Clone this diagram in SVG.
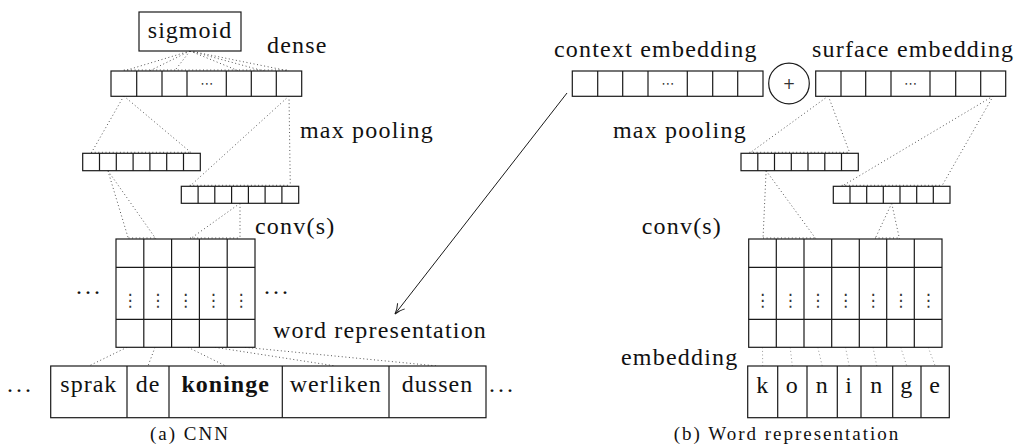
<svg xmlns="http://www.w3.org/2000/svg" width="1016" height="448" viewBox="0 0 1016 448">
  <style>
    .box { fill: #ffffff; stroke: #1a1a1a; stroke-width: 1.2; }
    .cell { fill: none; stroke: #1a1a1a; stroke-width: 1.2; }
    .dot { fill: none; stroke: #555555; stroke-width: 1; stroke-dasharray: 1 2.6; }
    .faint { fill: none; stroke: #9a9a9a; stroke-width: 1; stroke-dasharray: 1 2.6; }
    .arrow { fill: none; stroke: #1a1a1a; stroke-width: 1; }
    .serif { font-family: "Liberation Serif", "Times New Roman", serif; fill: #111111; }
    .lbl { font-size: 24px; letter-spacing: 1.2px; }
    .word { font-size: 24px; letter-spacing: 1px; text-anchor: middle; }
    .bold { font-weight: bold; }
    .cap { font-size: 19px; letter-spacing: 2px; text-anchor: middle; }
    .ell { font-size: 24px; letter-spacing: 3px; }
    .sym { font-family: "DejaVu Sans", sans-serif; fill: #333333; text-anchor: middle; }
  </style>
  <defs>
    <marker id="head" viewBox="0 0 12 12" refX="11" refY="6" markerWidth="12" markerHeight="12" markerUnits="userSpaceOnUse" orient="auto">
      <path d="M1,1.5 Q6,5 11,6 Q6,7 1,10.5" fill="none" stroke="#1a1a1a" stroke-width="1"/>
    </marker>
  </defs>

  <!-- connectors -->
  <g id="connectors">
    <!-- sigmoid to dense -->
    <path class="dot" d="M190,51 L123.8,71 M190,51 L149.3,71 M190,51 L174.5,71 M190,51 L238.8,71 M190,51 L263.8,71 M190,51 L289,71 M123.8,70 H289"/>
    <!-- dense to pooled vectors (left) -->
    <path class="dot" d="M123.8,96 L91.1,153.3 M123.8,96 L191.9,153.3 M91.1,152.3 H191.9"/>
    <path class="dot" d="M289,96 L189.7,186.3 M289,96 L290.3,186.3 M189.7,185.3 H290.3"/>
    <!-- pooled vectors to conv matrix (left) -->
    <path class="dot" d="M107.9,170.7 L128.5,239 M107.9,170.7 L156,239 M128.5,238 H156"/>
    <path class="dot" d="M240,203.3 L190,239 M240,203.3 L240,239 M190,238 H240"/>
    <!-- conv matrix to words -->
    <path class="dot" d="M127,347.3 L88.8,366 M155,347.3 L148,366 M188,347.3 L225.7,366 M215,347.3 L335.7,366 M245,347.3 L437.5,366"/>
    <!-- surface embedding to pooled vectors (right) -->
    <path class="dot" d="M828.3,96 L749.4,153.3 M828.3,96 L849.9,153.3 M749.4,152.3 H849.9"/>
    <path class="dot" d="M993.2,96 L841.7,186.3 M993.2,96 L941.7,186.3 M841.7,185.3 H941.7"/>
    <!-- pooled vectors to conv matrix (right) -->
    <path class="dot" d="M766.1,170.7 L763,239 M766.1,170.7 L816,239 M763,238 H816"/>
    <path class="dot" d="M891.7,203.3 L875,239 M891.7,203.3 L899.5,239 M875,238 H899.5"/>
    <!-- character embeddings to conv matrix -->
    <path class="faint" d="M762.5,347.3 L762.7,366 M790.2,347.3 L792.3,366 M817.8,347.3 L822.2,366 M845.5,347.3 L849.2,366 M873,347.3 L876.8,366 M900.7,347.3 L906.8,366 M928.2,347.3 L935.2,366"/>
    <!-- word representation feeds the sentence CNN -->
    <line class="arrow" x1="567" y1="93" x2="395" y2="314" marker-end="url(#head)"/>
  </g>

  <!-- (a) CNN -->
  <g id="sigmoid">
    <rect class="box" x="139" y="12" width="102" height="39"/>
    <text class="serif word" x="190" y="38">sigmoid</text>
  </g>
  <g id="dense">
    <rect class="box" x="111" y="71" width="190.7" height="25.3"/>
    <path class="cell" d="M136.7,71V96.3M162,71V96.3M187,71V96.3M226.3,71V96.3M251.3,71V96.3M276.3,71V96.3"/>
    <text class="sym" x="206.7" y="88" font-size="13">⋯</text>
    <text class="serif lbl" x="267" y="53">dense</text>
  </g>
  <g id="pool-left-a">
    <rect class="box" x="82.7" y="153.3" width="117.6" height="17.4"/>
    <path class="cell" d="M99.5,153.3V170.7M116.3,153.3V170.7M133.1,153.3V170.7M149.9,153.3V170.7M166.7,153.3V170.7M183.5,153.3V170.7"/>
  </g>
  <g id="pool-left-b">
    <rect class="box" x="181.3" y="186.3" width="117.4" height="17"/>
    <path class="cell" d="M198.1,186.3V203.3M214.8,186.3V203.3M231.6,186.3V203.3M248.4,186.3V203.3M265.1,186.3V203.3M281.9,186.3V203.3"/>
    <text class="serif lbl" x="300" y="138">max pooling</text>
  </g>
  <g id="conv-left">
    <rect class="box" x="116" y="239" width="139" height="108.3"/>
    <path class="cell" d="M143.8,239V347.3M171.6,239V347.3M199.4,239V347.3M227.2,239V347.3M116,267.3H255M116,319.3H255"/>
    <text class="sym" font-size="17" x="130" y="306">⋮</text>
    <text class="sym" font-size="17" x="157.8" y="306">⋮</text>
    <text class="sym" font-size="17" x="185.5" y="306">⋮</text>
    <text class="sym" font-size="17" x="213.3" y="306">⋮</text>
    <text class="sym" font-size="17" x="241.1" y="306">⋮</text>
    <text class="serif ell" x="76" y="294">...</text>
    <text class="serif ell" x="264" y="294">...</text>
    <text class="serif lbl" x="255" y="234">conv(s)</text>
    <text class="serif lbl" x="273" y="338">word representation</text>
  </g>
  <g id="words">
    <rect class="box" x="50.7" y="366" width="435.3" height="51.7"/>
    <path class="cell" d="M127,366V417.7M169,366V417.7M282.3,366V417.7M389,366V417.7"/>
    <text class="serif word" x="88.8" y="392">sprak</text>
    <text class="serif word" x="148" y="392">de</text>
    <text class="serif word bold" x="225.7" y="392">koninge</text>
    <text class="serif word" x="335.7" y="392">werliken</text>
    <text class="serif word" x="437.5" y="392">dussen</text>
    <text class="serif ell" x="7" y="392">...</text>
    <text class="serif ell" x="489" y="392">...</text>
  </g>
  <text class="serif cap" x="190" y="440">(a) CNN</text>

  <!-- (b) Word representation -->
  <g id="context-embedding">
    <rect class="box" x="572.3" y="71" width="190.7" height="25.3"/>
    <path class="cell" d="M597.7,71V96.3M622.7,71V96.3M648,71V96.3M687.3,71V96.3M712.7,71V96.3M737.7,71V96.3"/>
    <text class="sym" x="667.7" y="88" font-size="13">⋯</text>
    <text class="serif lbl" x="554" y="57">context embedding</text>
  </g>
  <g id="concat">
    <circle class="box" cx="789" cy="83.5" r="20.3"/>
    <text class="sym" x="789" y="89" font-size="15" fill="#444">+</text>
  </g>
  <g id="surface-embedding">
    <rect class="box" x="815.7" y="71" width="190" height="25.3"/>
    <path class="cell" d="M841,71V96.3M865.7,71V96.3M891,71V96.3M930,71V96.3M955.7,71V96.3M980.7,71V96.3"/>
    <text class="sym" x="910.5" y="88" font-size="13">⋯</text>
    <text class="serif lbl" x="812" y="57">surface embedding</text>
  </g>
  <g id="pool-right-a">
    <rect class="box" x="741" y="153.3" width="117.3" height="17.4"/>
    <path class="cell" d="M757.8,153.3V170.7M774.5,153.3V170.7M791.3,153.3V170.7M808,153.3V170.7M824.8,153.3V170.7M841.5,153.3V170.7"/>
    <text class="serif lbl" x="613" y="138">max pooling</text>
  </g>
  <g id="pool-right-b">
    <rect class="box" x="833.3" y="186.3" width="116.7" height="17"/>
    <path class="cell" d="M850,186.3V203.3M866.7,186.3V203.3M883.3,186.3V203.3M900,186.3V203.3M916.7,186.3V203.3M933.3,186.3V203.3"/>
  </g>
  <g id="conv-right">
    <rect class="box" x="748.7" y="239" width="193.3" height="108.3"/>
    <path class="cell" d="M776.3,239V347.3M804,239V347.3M831.7,239V347.3M859.3,239V347.3M886.7,239V347.3M914.3,239V347.3M748.7,267.3H942M748.7,319.3H942"/>
    <text class="sym" font-size="17" x="762.5" y="306">⋮</text>
    <text class="sym" font-size="17" x="790.2" y="306">⋮</text>
    <text class="sym" font-size="17" x="817.8" y="306">⋮</text>
    <text class="sym" font-size="17" x="845.5" y="306">⋮</text>
    <text class="sym" font-size="17" x="873" y="306">⋮</text>
    <text class="sym" font-size="17" x="900.7" y="306">⋮</text>
    <text class="sym" font-size="17" x="928.2" y="306">⋮</text>
    <text class="serif lbl" x="641.7" y="234">conv(s)</text>
    <text class="serif lbl" x="621" y="365">embedding</text>
  </g>
  <g id="characters">
    <rect class="box" x="747.7" y="366" width="201.6" height="51.7"/>
    <path class="cell" d="M777.7,366V417.7M807,366V417.7M837.3,366V417.7M861,366V417.7M892.7,366V417.7M921,366V417.7"/>
    <text class="serif word" x="762.7" y="393">k</text>
    <text class="serif word" x="792.3" y="393">o</text>
    <text class="serif word" x="822.2" y="393">n</text>
    <text class="serif word" x="849.2" y="393">i</text>
    <text class="serif word" x="876.8" y="393">n</text>
    <text class="serif word" x="906.8" y="393">g</text>
    <text class="serif word" x="935.2" y="393">e</text>
  </g>
  <text class="serif cap" x="787" y="440">(b) Word representation</text>
</svg>
